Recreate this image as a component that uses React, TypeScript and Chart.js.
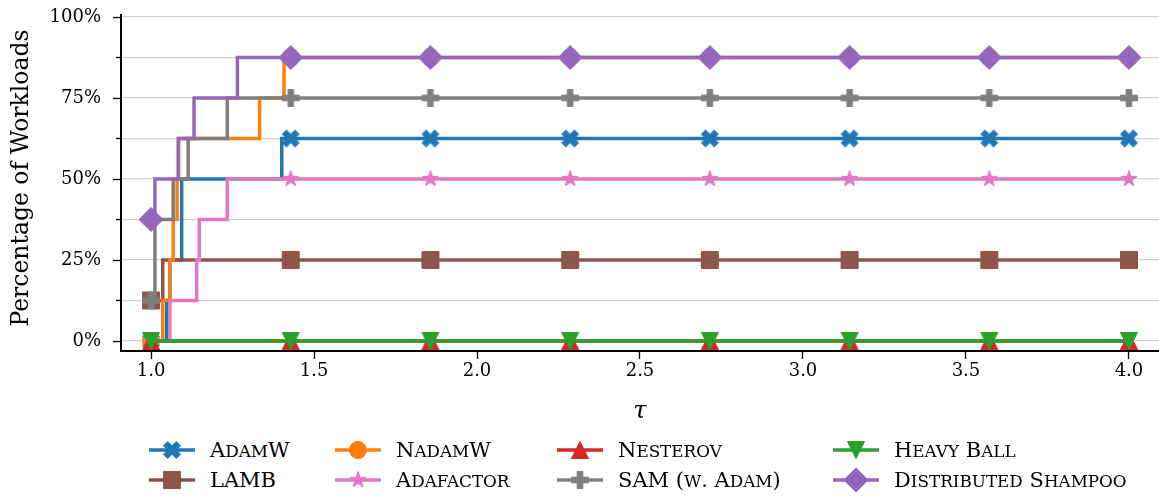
import React, { useEffect, useRef } from 'react';
import { Chart, registerables } from 'chart.js';

Chart.register(...registerables);

const FONT = "'DejaVu Serif', 'Liberation Serif', serif";

// Marker positions along tau (8 evenly spaced markers)
const markerTau = [1.0, 1.4286, 1.8571, 2.2857, 2.7143, 3.1429, 3.5714, 4.0];

// Step-function data: tau where the level changes, and the level (% of workloads) from there on
const adamwTau = [1.0, 1.048, 1.058, 1.094, 1.401, 4.0];
const adamwPct = [0, 12.5, 25, 50, 62.5, 62.5];

const lambTau = [1.0, 1.036, 4.0];
const lambPct = [12.5, 25, 25];

const nadamwTau = [1.0, 1.036, 1.058, 1.068, 1.08, 1.084, 1.333, 1.408, 4.0];
const nadamwPct = [0, 12.5, 25, 37.5, 50, 62.5, 75, 87.5, 87.5];

const adafactorTau = [1.0, 1.058, 1.14, 1.148, 1.234, 4.0];
const adafactorPct = [0, 12.5, 25, 37.5, 50, 50];

const nesterovTau = [1.0, 4.0];
const nesterovPct = [0, 0];

const samTau = [1.0, 1.012, 1.068, 1.114, 1.234, 4.0];
const samPct = [12.5, 37.5, 50, 62.5, 75, 75];

const heavyBallTau = [1.0, 4.0];
const heavyBallPct = [0, 0];

const shampooTau = [1.0, 1.012, 1.084, 1.132, 1.265, 4.0];
const shampooPct = [37.5, 50, 62.5, 75, 87.5, 87.5];

const xTicks = [1.0, 1.5, 2.0, 2.5, 3.0, 3.5, 4.0];
const yTicks = [0, 12.5, 25, 37.5, 50, 62.5, 75, 87.5, 100];

const yTitle = 'Percentage of Workloads';
const xTitle = 'τ';

type Shape = 'X' | 's' | 'o' | '*' | '^' | 'P' | 'v' | 'D';

interface SeriesDef {
  label: string;
  tau: number[];
  pct: number[];
  color: string;
  marker: Shape;
  order: number;
}

const series: SeriesDef[] = [
  { label: 'AdamW', tau: adamwTau, pct: adamwPct, color: '#1f77b4', marker: 'X', order: 7 },
  { label: 'LAMB', tau: lambTau, pct: lambPct, color: '#8c564b', marker: 's', order: 6 },
  { label: 'NadamW', tau: nadamwTau, pct: nadamwPct, color: '#ff7f0e', marker: 'o', order: 5 },
  { label: 'Adafactor', tau: adafactorTau, pct: adafactorPct, color: '#e377c2', marker: '*', order: 4 },
  { label: 'Nesterov', tau: nesterovTau, pct: nesterovPct, color: '#d62728', marker: '^', order: 3 },
  { label: 'SAM (w. Adam)', tau: samTau, pct: samPct, color: '#7f7f7f', marker: 'P', order: 2 },
  { label: 'Heavy Ball', tau: heavyBallTau, pct: heavyBallPct, color: '#2ca02c', marker: 'v', order: 1 },
  { label: 'Distributed Shampoo', tau: shampooTau, pct: shampooPct, color: '#9467bd', marker: 'D', order: 0 },
];

// legend layout: [row, col] per series
const legendPos: Record<string, [number, number]> = {
  'AdamW': [0, 0], 'NadamW': [0, 1], 'Nesterov': [0, 2], 'Heavy Ball': [0, 3],
  'LAMB': [1, 0], 'Adafactor': [1, 1], 'SAM (w. Adam)': [1, 2], 'Distributed Shampoo': [1, 3],
};
const legendColX = [149, 335, 557, 833];
const legendRowY = [450, 480];

const MS = 17;

function shapePath(ctx: CanvasRenderingContext2D, shape: Shape, cx: number, cy: number, s: number) {
  ctx.beginPath();
  const poly = (pts: number[][], k: number) => {
    pts.forEach(([px, py], i) => {
      const X = cx + px * k;
      const Y = cy - py * k;
      if (i === 0) ctx.moveTo(X, Y); else ctx.lineTo(X, Y);
    });
    ctx.closePath();
  };
  switch (shape) {
    case 'o':
      ctx.arc(cx, cy, s / 2, 0, Math.PI * 2);
      break;
    case 's':
      ctx.rect(cx - s / 2, cy - s / 2, s, s);
      break;
    case 'D': {
      const h = s * 0.7071;
      poly([[0, h], [h, 0], [0, -h], [-h, 0]], 1);
      break;
    }
    case '^':
      poly([[0, 1], [-1, -1], [1, -1]], s / 2);
      break;
    case 'v':
      poly([[0, -1], [-1, 1], [1, 1]], s / 2);
      break;
    case 'X':
      poly([[-1, -2], [0, -1], [1, -2], [2, -1], [1, 0], [2, 1], [1, 2], [0, 1], [-1, 2], [-2, 1], [-1, 0], [-2, -1]], s / 4);
      break;
    case 'P':
      poly([[-1, -3], [1, -3], [1, -1], [3, -1], [3, 1], [1, 1], [1, 3], [-1, 3], [-1, 1], [-3, 1], [-3, -1], [-1, -1]], s / 6);
      break;
    case '*': {
      const pts: number[][] = [];
      const r = s / 2;
      const ri = r * 0.381966;
      for (let i = 0; i < 10; i++) {
        const a = Math.PI / 2 + (i * Math.PI) / 5;
        const rr = i % 2 === 0 ? r : ri;
        pts.push([Math.cos(a) * rr, Math.sin(a) * rr]);
      }
      poly(pts, 1);
      break;
    }
  }
}

function drawMarker(ctx: CanvasRenderingContext2D, shape: Shape, color: string, cx: number, cy: number, s: number) {
  shapePath(ctx, shape, cx, cy, s);
  ctx.fillStyle = color;
  ctx.fill();
  ctx.lineWidth = 1;
  ctx.strokeStyle = color;
  ctx.lineJoin = 'miter';
  ctx.stroke();
}

function makeMarkerCanvas(shape: Shape, color: string, s: number): HTMLCanvasElement {
  const c = document.createElement('canvas');
  const size = Math.ceil(s * 1.6) + 2;
  c.width = size;
  c.height = size;
  const ctx = c.getContext('2d')!;
  drawMarker(ctx, shape, color, size / 2, size / 2, s);
  return c;
}

// Build step-line points; marker points are flagged. A non-marker point at each end
// keeps Chart.js from reserving extra layout padding for the end markers.
function buildPoints(tau: number[], pct: number[]) {
  const pts: { x: number; y: number; m: boolean }[] = [];
  pts.push({ x: tau[0], y: pct[0], m: false });
  for (let i = 0; i < tau.length; i++) {
    if (i > 0) pts.push({ x: tau[i], y: pct[i - 1], m: false });
    pts.push({ x: tau[i], y: pct[i], m: markerTau.includes(tau[i]) });
    const next = i + 1 < tau.length ? tau[i + 1] : Infinity;
    markerTau.forEach((mx) => {
      if (mx > tau[i] && mx < next) pts.push({ x: mx, y: pct[i], m: true });
    });
  }
  pts.push({ x: tau[tau.length - 1], y: pct[pct.length - 1], m: false });
  return pts;
}

const axisPlugin = {
  id: 'axisExtras',
  afterDraw(chart: any) {
    const ys = chart.scales.y;
    const ctx = chart.ctx;
    const left = chart.chartArea.left;
    ctx.save();
    ctx.strokeStyle = '#000';
    ctx.lineWidth = 1.3;
    yTicks.forEach((v) => {
      const len = v % 25 === 0 ? 8 : 5;
      const py = Math.round(ys.getPixelForValue(v)) + 0.5;
      ctx.beginPath();
      ctx.moveTo(left - len, py);
      ctx.lineTo(left, py);
      ctx.stroke();
    });
    // y-axis title
    ctx.translate(22, 178);
    ctx.rotate(-Math.PI / 2);
    ctx.fillStyle = '#000';
    ctx.font = `23.5px ${FONT}`;
    ctx.textAlign = 'center';
    ctx.textBaseline = 'middle';
    ctx.fillText(yTitle, 0, 0);
    ctx.restore();
  },
};

// LaTeX-like small caps: lowercase letters become reduced-size capitals
function SmallCaps({ text }: { text: string }) {
  const parts: { t: string; small: boolean }[] = [];
  for (const ch of text) {
    const small = ch !== ch.toUpperCase();
    const last = parts[parts.length - 1];
    if (last && last.small === small) last.t += ch;
    else parts.push({ t: ch, small });
  }
  return (
    <span>
      {parts.map((p, i) =>
        p.small ? (
          <span key={i} style={{ fontSize: '0.8em' }}>{p.t.toUpperCase()}</span>
        ) : (
          <span key={i}>{p.t}</span>
        )
      )}
    </span>
  );
}

function LegendIcon({ shape, color }: { shape: Shape; color: string }) {
  const ref = useRef<HTMLCanvasElement>(null);
  useEffect(() => {
    const c = ref.current;
    if (!c) return;
    const ctx = c.getContext('2d')!;
    ctx.clearRect(0, 0, c.width, c.height);
    ctx.strokeStyle = color;
    ctx.lineWidth = 3.5;
    ctx.beginPath();
    ctx.moveTo(0, 15);
    ctx.lineTo(46, 15);
    ctx.stroke();
    drawMarker(ctx, shape, color, 23, 15, MS);
  }, [shape, color]);
  return <canvas ref={ref} width={46} height={30} style={{ display: 'block' }} />;
}

export default function App() {
  const canvasRef = useRef<HTMLCanvasElement>(null);

  useEffect(() => {
    const canvas = canvasRef.current;
    if (!canvas) return;
    const datasets = series.map((s) => {
      const img = makeMarkerCanvas(s.marker, s.color, MS);
      return {
        label: s.label,
        data: buildPoints(s.tau, s.pct),
        borderColor: s.color,
        backgroundColor: s.color,
        borderWidth: 3.5,
        pointRadius: (c: any) => (c.raw && c.raw.m ? 9 : 0),
        pointHoverRadius: 0,
        pointHitRadius: 0,
        pointBorderWidth: 0,
        pointStyle: img,
        tension: 0,
        order: s.order,
        clip: 12,
      };
    });

    const chart = new Chart(canvas, {
      type: 'line',
      data: { datasets: datasets as any },
      options: {
        animation: false,
        responsive: false,
        events: [],
        layout: { padding: { top: 15, right: 0, left: 0, bottom: 0 } },
        plugins: { legend: { display: false }, tooltip: { enabled: false } },
        scales: {
          x: {
            type: 'linear',
            min: 0.9079,
            max: 4.0921,
            afterBuildTicks: (scale: any) => {
              scale.ticks = xTicks.map((value) => ({ value }));
            },
            afterFit: (scale: any) => {
              scale.height = 79;
              scale.paddingLeft = 0;
              scale.paddingRight = 0;
            },
            grid: { drawOnChartArea: false, drawTicks: true, tickLength: 8, tickColor: '#000', tickWidth: 1.3 },
            border: { color: '#000', width: 2 },
            ticks: {
              color: '#000',
              font: { family: FONT, size: 18 },
              padding: 2,
              maxRotation: 0,
              autoSkip: false,
              callback: (v: any) => Number(v).toFixed(1),
            },
            title: {
              display: true,
              text: xTitle,
              color: '#000',
              font: { family: FONT, size: 24, style: 'italic' },
              padding: { top: 0, bottom: 4 },
            },
          },
          y: {
            type: 'linear',
            min: -3.1,
            max: 100.6,
            afterBuildTicks: (scale: any) => {
              scale.ticks = yTicks.map((value) => ({ value }));
            },
            afterFit: (scale: any) => {
              scale.width = 121;
              scale.paddingTop = 0;
              scale.paddingBottom = 0;
            },
            grid: { color: '#d0d0d0', lineWidth: 1.2, drawTicks: false },
            border: { color: '#000', width: 2 },
            ticks: {
              color: '#000',
              font: { family: FONT, size: 18 },
              padding: 20,
              autoSkip: false,
              callback: (v: any) => (Number(v) % 25 === 0 ? `${v}%` : ''),
            },
            title: { display: false },
          },
        },
      },
      plugins: [axisPlugin],
    });
    return () => chart.destroy();
  }, []);

  return (
    <div style={{ position: 'fixed', left: 0, top: 0, width: 1159, height: 496, background: '#fff' }}>
      <canvas ref={canvasRef} width={1159} height={430} style={{ display: 'block' }} />
      {series.map((s) => {
        const [row, col] = legendPos[s.label];
        return (
          <div
            key={s.label}
            style={{
              position: 'absolute',
              left: legendColX[col],
              top: legendRowY[row] - 15,
              height: 30,
              display: 'flex',
              alignItems: 'center',
              fontFamily: FONT,
              fontSize: 21,
              color: '#000',
              whiteSpace: 'nowrap',
            }}
          >
            <LegendIcon shape={s.marker} color={s.color} />
            <span style={{ marginLeft: 15 }}>
              <SmallCaps text={s.label} />
            </span>
          </div>
        );
      })}
    </div>
  );
}
